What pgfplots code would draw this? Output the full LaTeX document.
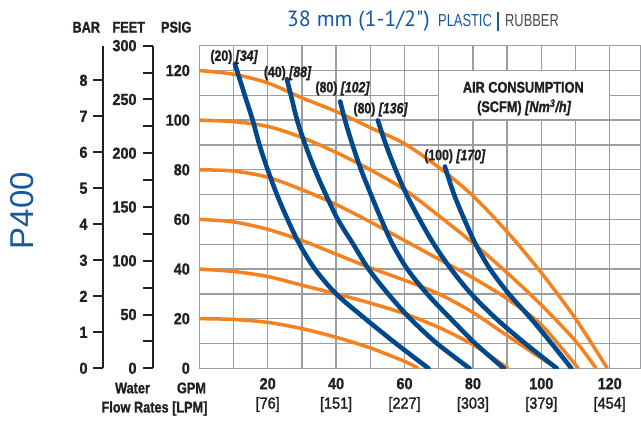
\documentclass[border=0pt]{standalone}
\usepackage{pgfplots}
\pgfplotsset{compat=1.18}
\usepackage{fontspec}
\setmainfont{Liberation Sans}
\newfontfamily\cnd[FakeStretch=0.9, BoldFeatures={FakeBold=1.2}, BoldItalicFeatures={FakeBold=1.2}, UprightFeatures={FakeBold=1.6}]{Liberation Sans}
\newfontfamily\cndl[FakeStretch=0.82, BoldFeatures={FakeBold=1.2}, BoldItalicFeatures={FakeBold=1.2}]{Liberation Sans}
\newfontfamily\cndn[FakeStretch=0.74]{Liberation Sans}
\newfontfamily\pts{PT Sans}
\definecolor{cblue}{RGB}{0,72,140}
\definecolor{corange}{RGB}{246,130,31}
\definecolor{tblue}{RGB}{22,88,164}
\definecolor{gridgray}{RGB}{152,158,164}
\definecolor{txt}{RGB}{35,31,32}
\definecolor{rgray}{RGB}{75,75,80}
\begin{document}
\begin{tikzpicture}
\begin{axis}[at={(199.3pt,-368.3pt)}, anchor=south west, scale only axis,
 width=441.2pt, height=322.6pt,
 xmin=0, xmax=129, ymin=0, ymax=130,
 xtick={20,40,60,80,100,120},
 xticklabels={{{\bfseries 20}\\{}[76]},{{\bfseries 40}\\{}[151]},{{\bfseries 60}\\{}[227]},{{\bfseries 80}\\{}[303]},{{\bfseries 100}\\{}[379]},{{\bfseries 120}\\{}[454]}},
 minor xtick={10,30,50,70,90,110},
 ytick={0,20,40,60,80,100,120}, minor ytick={10,30,50,70,90,110,130},
 grid=both, grid style={gridgray, line width=1.3pt}, minor grid style={gridgray, line width=1.3pt},
 axis line style={gridgray, line width=1.3pt},
 major tick length=0pt, minor tick length=0pt,
 tick style={draw=none},
 /pgf/number format/assume math mode=true,
 yticklabel style={font=\cnd\bfseries\fontsize{16}{18}\selectfont, text=txt, anchor=east, inner sep=0pt, xshift=-9.3pt},
 xticklabel style={font=\cnd\fontsize{16}{19.5}\selectfont, text=txt, align=center, anchor=north, inner sep=0pt, yshift=-9.5pt},
]
\fill[white] ([shift={(0.7pt,0.7pt)}]axis cs:70,100) rectangle ([shift={(-0.7pt,-0.7pt)}]axis cs:120,120);
% pump curves (air inlet pressure)
\addplot[corange, line width=3.5pt, smooth, no marks] coordinates {(0,120)(10,118.5)(20,115)(30,109)(40,103.5)(50,97)(60,90.5)(70,81)(80,69.5)(90,55)(100,38.5)(110,20)(119.3,0)};
\addplot[corange, line width=3.5pt, smooth, no marks] coordinates {(0,100)(10,99.4)(20,97.5)(30,93)(40,87)(50,80)(60,72)(70,61.5)(80,50.5)(90,38.5)(100,25.5)(110,11)(116,0)};
\addplot[corange, line width=3.5pt, smooth, no marks] coordinates {(0,80)(10,79.5)(20,77)(30,72)(40,66)(50,59)(60,51.5)(70,44)(80,36.5)(90,28)(100,17.5)(110.8,0)};
\addplot[corange, line width=3.5pt, smooth, no marks] coordinates {(0,60)(10,59)(20,56)(30,51.5)(40,46)(50,40.5)(60,35.5)(70,30)(80,22.5)(90,13.2)(100,4)(104.8,0)};
\addplot[corange, line width=3.5pt, smooth, no marks] coordinates {(0,40)(10,39)(20,37)(30,33.5)(40,30)(50,26.3)(60,22)(70,16.5)(80,9.5)(90.3,0)};
\addplot[corange, line width=3.5pt, smooth, no marks] coordinates {(0,20)(10,19.7)(20,18.5)(30,16)(40,12.5)(50,8.2)(60,2.8)(64,0)};
% air consumption curves
\addplot[cblue, line width=4.6pt, smooth, line cap=round, no marks] coordinates {(10.4,122.7)(13.3,110)(15.6,100)(17.6,90)(20,80)(22.7,70)(25.8,60)(29.3,50)(33.8,40)(40,30)(48.5,20)(57.5,10)(67,0)};
\addplot[cblue, line width=4.6pt, smooth, line cap=round, no marks] coordinates {(25.6,116.5)(26.8,110)(28.6,100)(31,90)(33.8,80)(37,70)(40.5,60)(45,50)(49.5,40)(55.2,30)(61.7,20)(69.5,10)(79,0)};
\addplot[cblue, line width=4.6pt, smooth, line cap=round, no marks] coordinates {(41.2,107.5)(42.6,100)(44.8,90)(47.3,80)(50.2,70)(53.2,60)(56.5,50)(60.8,40)(66.6,30)(73.5,20)(80.7,10)(89,0)};
\addplot[cblue, line width=4.6pt, smooth, line cap=round, no marks] coordinates {(52.2,99.9)(54.6,90)(57.4,80)(60.6,70)(64.4,60)(68.6,50)(73.6,40)(79.5,30)(86.8,20)(95.3,10)(104.5,0)};
\addplot[cblue, line width=4.6pt, smooth, line cap=round, no marks] coordinates {(71.8,81.3)(74.5,70)(77.5,60)(80.8,50)(85,40)(90.5,30)(97,20)(103,10)(108.8,0)};
\end{axis}
% BAR scale
\begin{axis}[at={(103.3pt,-368.3pt)}, anchor=south west, scale only axis,
 width=10pt, height=322.6pt, xmin=0, xmax=1, ymin=0, ymax=8.963,
 axis x line=none, axis y line=left, axis line style={-, txt, line width=2pt},
 ytick={0,1,2,3,4,5,6,7,8}, tick align=outside, major tick length=10pt,
 tick style={txt, line width=2pt},
 /pgf/number format/assume math mode=true,
 yticklabel style={font=\cnd\bfseries\fontsize{16}{18}\selectfont, text=txt, anchor=east, inner sep=0pt, xshift=-5.6pt}]
\end{axis}
% FEET scale
\begin{axis}[at={(153.3pt,-368.3pt)}, anchor=south west, scale only axis,
 width=10pt, height=322.6pt, xmin=0, xmax=1, ymin=0, ymax=300,
 axis x line=none, axis y line=left, axis line style={-, txt, line width=2pt},
 ytick={0,50,100,150,200,250,300}, minor ytick={25,75,125,175,225,275},
 tick align=outside, major tick length=10pt, minor tick length=10pt,
 tick style={txt, line width=2pt},
 /pgf/number format/assume math mode=true,
 yticklabel style={font=\cnd\bfseries\fontsize{16}{18}\selectfont, text=txt, anchor=east, inner sep=0pt, xshift=-6.6pt}]
\end{axis}
% headers
\begin{scope}[every node/.style={inner sep=0pt, text=txt, font=\cndl\bfseries\fontsize{15.5}{18}\selectfont}]
\node at (86.3pt,-27.2pt) {BAR};
\node at (128.7pt,-27.2pt) {FEET};
\node at (176.2pt,-27.2pt) {PSIG};
\node[anchor=base] at (132.5pt,-393.3pt) {Water};
\node[anchor=base] at (191.5pt,-393.3pt) {GPM};
\node[anchor=base] at (154.5pt,-412.5pt) {Flow Rates [LPM]};
\end{scope}
\begin{scope}[every node/.style={inner sep=0pt, text=txt, font=\cndl\bfseries\fontsize{15}{16}\selectfont}]
\node at (234pt,-57pt) {(20) {\itshape [34]}};
\node at (287.5pt,-73.2pt) {(40) {\itshape [88]}};
\node at (342.5pt,-88.5pt) {(80) {\itshape [102]}};
\node at (380.5pt,-109.5pt) {(80) {\itshape [136]}};
\node at (454.7pt,-156.3pt) {(100) {\itshape [170]}};
\node[font=\cndl\bfseries\fontsize{15.5}{18}\selectfont] at (523.3pt,-87.3pt) {AIR CONSUMPTION};
\node[font=\cndl\bfseries\fontsize{15.5}{18}\selectfont] at (524pt,-107.3pt) {(SCFM) {\itshape [Nm\textsuperscript{3}/h]}};
\end{scope}
% title
\node[anchor=base west, inner sep=0pt, text=tblue, font=\pts\fontsize{22}{24}\selectfont] at (286.7pt,-26.7pt) {38 mm (1-1/2")};
\node[anchor=base west, inner sep=0pt, text=tblue, font=\cndn\fontsize{17.4}{20}\selectfont] at (438pt,-26.7pt) {PLASTIC};
\fill[tblue] (497.4pt,-30.7pt) rectangle (498.8pt,-11.7pt);
\node[anchor=base west, inner sep=0pt, text=rgray, font=\cndn\fontsize{17.4}{20}\selectfont] at (505pt,-26.7pt) {RUBBER};
\node[rotate=90, inner sep=0pt, text=tblue, font=\fontsize{33}{36}\selectfont] at (22.5pt,-210.5pt) {P400};
\pgfresetboundingbox
\path[use as bounding box] (0pt,0pt) rectangle (641pt,-422pt);
\end{tikzpicture}
\end{document}
